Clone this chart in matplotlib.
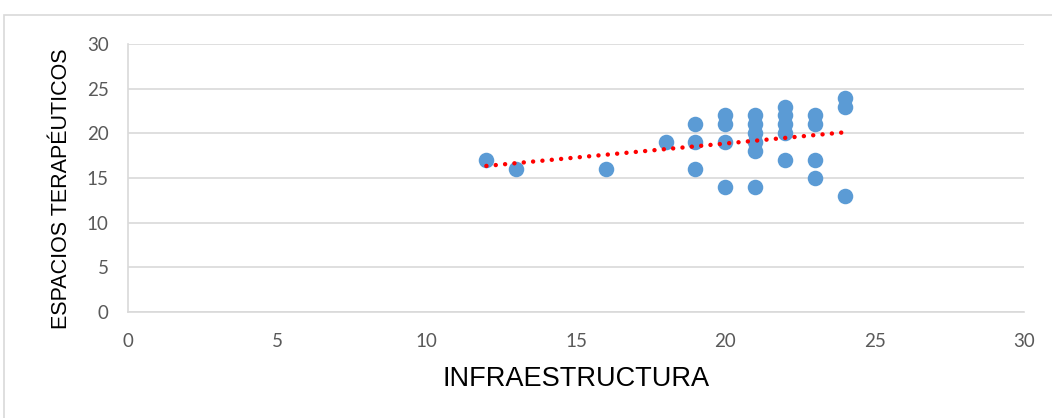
import matplotlib
matplotlib.use("Agg")
import matplotlib.pyplot as plt
import numpy as np
from matplotlib.patches import Rectangle

infraestructura = [12, 13, 16, 18, 19, 19, 19, 20, 20, 20, 20,
                   21, 21, 21, 21, 21, 21, 22, 22, 22, 22, 22,
                   23, 23, 23, 23, 24, 24, 24]
espacios = [17, 16, 16, 19, 21, 19, 16, 22, 21, 19, 14,
            22, 21, 20, 19, 18, 14, 23, 22, 21, 20, 17,
            22, 21, 17, 15, 24, 23, 13]
xticks = [0, 5, 10, 15, 20, 25, 30]
yticks = [0, 5, 10, 15, 20, 25, 30]

plt.rcParams['font.family'] = ['Open Sans', 'DejaVu Sans']

fig = plt.figure(figsize=(10.52, 4.18), dpi=100)
fig.patches.append(Rectangle((4/1052, -0.01), 1.02, (418-15)/418 + 0.01,
                             transform=fig.transFigure, fill=False,
                             edgecolor='#D9D9D9', linewidth=1.2))
ax = fig.add_axes([128/1052, 1-312/418, (1024-128)/1052, (312-44)/418])

x = np.array(infraestructura, dtype=float)
y = np.array(espacios, dtype=float)
ax.scatter(x, y, s=125, color='#5B9BD5', zorder=3, linewidths=0)
m, b = np.polyfit(x, y, 1)
xl = np.array([x.min(), x.max()])
ax.plot(xl, m*xl + b, color='#FF0000', linestyle=(0, (0.01, 2.1)), linewidth=3.2,
        dash_capstyle='round', zorder=4)

ax.set_xlim(0, 30)
ax.set_ylim(0, 30)
ax.set_xticks(xticks)
ax.set_yticks(yticks)
ax.grid(axis='y', color='#D9D9D9', linewidth=1.2, zorder=0)
ax.set_axisbelow(True)
for s in ['top', 'right']:
    ax.spines[s].set_visible(False)
ax.spines['left'].set_color('#D9D9D9')
ax.spines['bottom'].set_color('#D9D9D9')
ax.spines['left'].set_linewidth(1.2)
ax.spines['bottom'].set_linewidth(1.2)
ax.tick_params(length=0, labelsize=13.5, labelcolor='#595959')
ax.tick_params(axis='x', pad=15)
ax.tick_params(axis='y', pad=14)
for t in ax.get_xticklabels() + ax.get_yticklabels():
    t.set_fontfamily(['Lato', 'DejaVu Sans'])
ax.set_xlabel('INFRAESTRUCTURA', fontsize=19.5, color='#000000', labelpad=12,
              fontfamily=['Liberation Sans', 'DejaVu Sans'])
ax.set_ylabel('ESPACIOS TERAPÉUTICOS', fontsize=15.5, color='#000000',
              fontfamily=['Liberation Sans', 'DejaVu Sans'])
ax.yaxis.set_label_coords(-0.0737, 0.459)
ax.yaxis.label.set_verticalalignment('center')

fig.savefig('out.png', dpi=100)
